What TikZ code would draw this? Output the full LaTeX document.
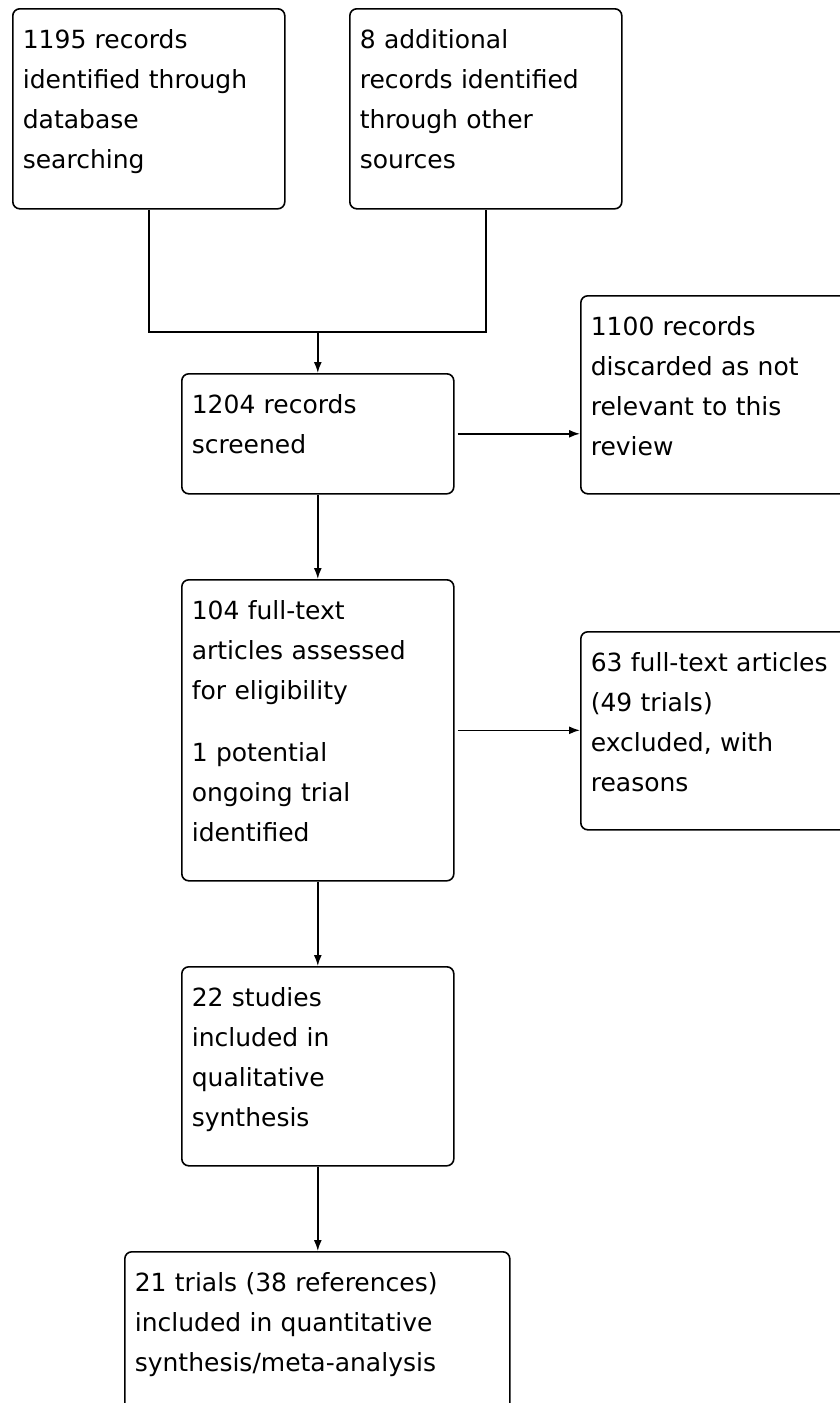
\documentclass[tikz,border=0pt]{standalone}
\usepackage{fontspec}
\setmainfont{DejaVu Sans}
\usetikzlibrary{arrows.meta, calc, positioning}

\begin{document}
\begin{tikzpicture}[x=1pt, y=-1pt,
    box/.style={draw, rounded corners=7pt, anchor=north west, align=left,
        inner xsep=10pt, inner ysep=0pt, text height=40pt, text depth=#1,
        font=\fontsize{25}{40}\selectfont, line width=1.6pt},
    link/.style={line width=1.6pt},
    arr/.style={line width=1.6pt, -{Latex[length=11pt, width=8pt]}}]
    \useasboundingbox (0,0) rectangle (839,1403);

    % sources
    \node[box=160pt, text width=252pt] (db) at (12,8) {1195 records\\identified through\\database\\searching};
    \node[box=160pt, text width=252pt] (other) at (349,8) {8 additional\\records identified\\through other\\sources};

    % screening
    \node[box=80pt, text width=252pt] (screened) at (181,373) {1204 records\\screened};
    \node[box=158pt, text width=252pt] (discarded) at (580,295) {1100 records\\discarded as not\\relevant to this\\review};

    % eligibility
    \node[box=261pt, text width=252pt] (fulltext) at (181,579) {104 full-text\\articles assessed\\for eligibility\\[22pt]1 potential\\ongoing trial\\identified};
    \node[box=158pt, text width=252pt] (excluded) at (580,631) {63 full-text articles\\(49 trials)\\excluded, with\\reasons};

    % included
    \node[box=159pt, text width=252pt] (qualitative) at (181,966) {22 studies\\included in\\qualitative\\synthesis};
    \node[box=160pt, text width=365pt] (quantitative) at (124,1251) {21 trials (38 references)\\included in quantitative\\synthesis/meta-analysis};

    \coordinate (merge) at (screened.north |- 0,332);
    \draw[link] (db.south) |- (merge) -| (other.south);
    \draw[arr] (merge) -- (screened.north);
    \draw[arr, shorten <=3pt] (screened.east) -- (screened.east -| discarded.west);
    \draw[arr] (screened.south) -- (fulltext.north);
    \draw[arr, shorten <=3pt] (fulltext.east) -- (fulltext.east -| excluded.west);
    \draw[arr] (fulltext.south) -- (qualitative.north);
    \draw[arr] (qualitative.south) -- (qualitative.south |- quantitative.north);
\end{tikzpicture}
\end{document}
